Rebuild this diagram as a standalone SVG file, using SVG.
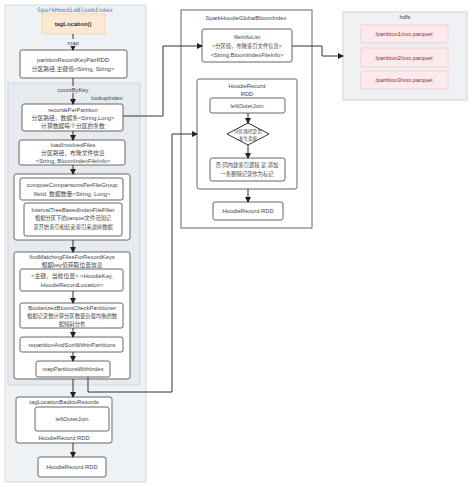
<svg xmlns="http://www.w3.org/2000/svg" width="474" height="486" viewBox="0 0 474 486">
<defs>
<marker id="ah" markerWidth="6" markerHeight="6" refX="5" refY="3" orient="auto" markerUnits="userSpaceOnUse">
<path d="M0,0 L6,3 L0,6 Z" fill="#222"/>
</marker>
<style>
text{font-family:"Liberation Sans","Noto Sans CJK SC",sans-serif;font-size:5.8px;fill:#444;text-anchor:middle}
.s{font-size:5.3px}
.d{font-size:4.6px}
.box{fill:#fff;stroke:#666;stroke-width:1}
.ln{fill:none;stroke:#333;stroke-width:1}
.ar{fill:none;stroke:#333;stroke-width:1;marker-end:url(#ah)}
.pt{fill:#fbe9ec;stroke:#f2cfd5;stroke-width:1}
.ptt{fill:#8a2f3a}
.t{fill:#5b7b9c;font-family:"DejaVu Sans Mono",monospace;font-size:6px}
</style>
</defs>
<rect width="474" height="486" fill="#fff"/>

<g id="sparkHoodieBloomIndex">
<rect x="5" y="5" width="141" height="477" fill="#eef2f5" stroke="#d3dbe2"/>
<text class="t" x="75" y="12">SparkHoodieBloomIndex</text>
</g>
<g id="tagLocation">
<rect x="42" y="14" width="63" height="20" fill="#fde9d3" stroke="#f5d6b3"/>
<text x="73" y="26" style="font-weight:bold;fill:#333">tagLocation()</text>
</g>
<g id="partitionRecordKeyPairRDD">
<rect class="box" x="20" y="50" width="107" height="28" rx="2"/>
<text x="73" y="62">partitionRecordKeyPairRDD</text>
<text x="73" y="71">分区路径,主键值&lt;String, String&gt;</text>
</g>
<g id="lookupIndex">
<rect x="8" y="83" width="132" height="302" fill="#e7ebef" stroke="#d0d6dc"/>
<text x="107" y="100">lookupIndex</text>
</g>
<g id="recordsPerPartition">
<rect class="box" x="22" y="104" width="101" height="27" rx="2"/>
<text x="73" y="112">recordsPerPartition</text>
<text x="73" y="120">分区路径，数据条&lt;String,Long&gt;</text>
<text x="73" y="128">计算数据每个分区的条数</text>
</g>
<g id="loadInvolvedFiles">
<rect class="box" x="19" y="140" width="106" height="25" rx="2"/>
<text x="73" y="147">loadInvolvedFiles</text>
<text x="73" y="155">分区路径，布隆文件信息</text>
<text x="73" y="163">&lt;String, BloomIndexFileInfo&gt;</text>
</g>
<g id="computeGroup">
<rect class="box" x="14" y="174" width="116" height="66" rx="2"/>
</g>
<g id="computeComparisonsPerFileGroup">
<rect class="box" x="20" y="178" width="103" height="22" rx="2"/>
<text x="72" y="187">computeComparisonsPerFileGroup</text>
<text x="72" y="196">fileId, 数据数量&lt;String, Long&gt;</text>
</g>
<g id="intervalTreeBasedIndexFileFilter">
<rect class="box" x="24" y="203" width="98" height="33" rx="2"/>
<text x="73" y="212">IntervalTreeBasedIndexFileFilter</text>
<text class="s" x="73" y="220">根据分区下的parquet文件范围记</text>
<text class="s" x="73" y="229">录开始索引和结束索引来滤掉数据</text>
</g>
<g id="findMatchingFilesForRecordKeys">
<rect class="box" x="14" y="252" width="116" height="127" rx="2"/>
<text x="72" y="259">findMatchingFilesForRecordKeys</text>
<text x="72" y="267">根据key值获取位置信息</text>
</g>
<g id="hoodieKeyLocation">
<rect class="box" x="20" y="269" width="103" height="22" rx="2"/>
<text x="72" y="278">&lt;主键，当前位置&gt; &lt;HoodieKey,</text>
<text x="72" y="287">HoodieRecordLocation&gt;</text>
</g>
<g id="bucketizedBloomCheckPartitioner">
<rect class="box" x="20" y="303" width="103" height="25" rx="2"/>
<text x="72" y="310">BucketizedBloomCheckPartitioner</text>
<text class="s" x="72" y="318">根据记录数计算分区数量负载均衡的数</text>
<text class="s" x="72" y="326">据倾斜分布</text>
</g>
<g id="repartitionAndSortWithinPartitions">
<rect class="box" x="20" y="337" width="103" height="15" rx="2"/>
<text x="72" y="347">repartitionAndSortWithinPartitions</text>
</g>
<g id="mapPartitionsWithIndex">
<rect class="box" x="36" y="361" width="74" height="16" rx="2"/>
<text x="73" y="371">mapPartitionsWithIndex</text>
</g>
<g id="tagLocationBacktoRecords">
<rect class="box" x="16" y="397" width="96" height="46" rx="2"/>
<text x="64" y="404">tagLocationBacktoRecords</text>
<text x="64" y="440">HoodieRecord  RDD</text>
</g>
<g id="leftOuterJoin1">
<rect class="box" x="35" y="407" width="74" height="24" rx="2"/>
<text x="72" y="421">leftOuterJoin</text>
</g>
<g id="hoodieRecordRDD1">
<rect class="box" x="38" y="457" width="68" height="20" rx="2"/>
<text x="72" y="469">HoodieRecord RDD</text>
</g>

<g id="sparkHoodieGlobalBloomIndex">
<rect x="181" y="10" width="131" height="218" fill="#fff" stroke="#666"/>
<text x="246" y="20">SparkHoodieGlobalBloomIndex</text>
</g>
<g id="fileInfoList">
<rect class="box" x="202" y="29" width="90" height="33" rx="2"/>
<text x="247" y="39">fileInfoList</text>
<text class="s" x="247" y="48">&lt;分区值，布隆索引文件信息&gt;</text>
<text x="247" y="57">&lt;String,BloomIndexFileInfo&gt;</text>
</g>
<g id="hoodieRecordRDDGroup">
<rect class="box" x="197" y="79" width="100" height="110" rx="2"/>
<text x="247" y="88">HoodieRecord</text>
<text x="247" y="96">RDD</text>
</g>
<g id="leftOuterJoin2">
<rect class="box" x="210" y="98" width="75" height="15" rx="2"/>
<text x="247" y="108">leftOuterJoin</text>
</g>
<g id="partitionChanged">
<polygon points="248,123 269,134 248,145 227,134" fill="#fff" stroke="#333"/>
<text class="d" x="248" y="133">分区路径是否</text>
<text class="d" x="248" y="139.5">发生变更</text>
</g>
<g id="deleteRecord">
<rect class="box" x="210" y="158" width="75" height="23" rx="2"/>
<text class="s" x="247" y="167">否:同内建索引逻辑 是:添加</text>
<text class="s" x="247" y="176">一条删除记录作为标记</text>
</g>
<g id="hoodieRecordRDD2">
<rect class="box" x="213" y="202" width="70" height="18" rx="2"/>
<text x="248" y="213">HoodieRecord RDD</text>
</g>

<g id="hdfs">
<rect x="343" y="12" width="124" height="88" fill="#eef0f3" stroke="#cfd4da"/>
<text x="405" y="19">hdfs</text>
</g>
<g id="partition1">
<rect class="pt" x="361" y="25" width="87" height="18"/>
<text class="ptt" x="404" y="36">/partition1/xxx.parquet</text>
</g>
<g id="partition2">
<rect class="pt" x="361" y="48" width="87" height="19"/>
<text class="ptt" x="404" y="60">/partition2/xxx.parquet</text>
</g>
<g id="partition3">
<rect class="pt" x="361" y="71" width="87" height="18"/>
<text class="ptt" x="404" y="82">/partition3/xxx.parquet</text>
</g>

<g id="connectors">
<path class="ar" d="M73,34 V50"/>
<rect x="63" y="39" width="20" height="7" fill="#eef2f5"/>
<text x="73" y="45">map</text>
<path class="ar" d="M73,78 V104"/>
<rect x="52" y="86" width="42" height="7" fill="#e7ebef"/>
<text x="73" y="92">countByKey</text>
<path class="ar" d="M73,131 V140"/>
<path class="ar" d="M73,165 V174"/>
<path class="ar" d="M73,240 V252"/>
<path class="ar" d="M73,291 V303"/>
<path class="ar" d="M73,328 V337"/>
<path class="ar" d="M73,352 V361"/>
<path class="ar" d="M73,379 V397"/>
<path class="ar" d="M73,443 V457"/>
<path class="ar" d="M123,116 H163 V46 H202"/>
<path class="ar" d="M292,46 H322 V56 H343"/>
<path class="ar" d="M88,377 V392 H172 V134 H197"/>
<path class="ar" d="M248,113 V123"/>
<path class="ar" d="M248,145 V158"/>
<path class="ar" d="M248,189 V202"/>
</g>
</svg>
